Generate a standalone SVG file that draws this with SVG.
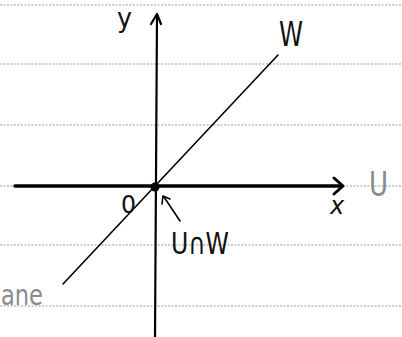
<svg xmlns="http://www.w3.org/2000/svg" width="402" height="337" viewBox="0 0 402 337">
<style>
.rule{stroke:#9a9a9a;stroke-width:1;stroke-dasharray:2 1.5;fill:none}
.ax{stroke:#000;fill:none;stroke-linecap:round;stroke-linejoin:round}
.t{font-family:"DejaVu Sans",sans-serif;fill:#111}
.g{font-family:"DejaVu Sans",sans-serif;fill:#8a8a8a}
</style>
<rect width="402" height="337" fill="#fff"/>
<g id="rules">
<line class="rule" x1="0" y1="5" x2="402" y2="5"/>
<line class="rule" x1="0" y1="64" x2="402" y2="64"/>
<line class="rule" x1="0" y1="125" x2="402" y2="125"/>
<line class="rule" x1="0" y1="186" x2="402" y2="186"/>
<line class="rule" x1="0" y1="245" x2="402" y2="245"/>
<line class="rule" x1="0" y1="306" x2="402" y2="306"/>
</g>
<g id="connectors">
<line class="ax" x1="15" y1="186" x2="342" y2="186" stroke-width="3.5"/>
<path class="ax" d="M334 178 L343 186 L334 194" stroke-width="3"/>
<line class="ax" x1="155" y1="337" x2="157" y2="15" stroke-width="2.2"/>
<path class="ax" d="M151 24 L157 14 L161 24" stroke-width="2.2"/>
<line class="ax" x1="63" y1="284" x2="278" y2="55" stroke-width="1.6"/>
<line class="ax" x1="180" y1="221" x2="164" y2="197" stroke-width="1.6"/>
<path class="ax" d="M162 204 L163 196 L170 199" stroke-width="1.6"/>
<circle cx="155" cy="187" r="4.5" fill="#000"/>
</g>
<g id="labels">
<text class="t" x="117" y="27" font-size="27" textLength="15" lengthAdjust="spacingAndGlyphs">y</text>
<text class="t" x="279" y="46" font-size="34" textLength="24" lengthAdjust="spacingAndGlyphs">W</text>
<text class="t" x="330" y="214" font-size="24" font-style="italic">x</text>
<text class="t" x="121" y="213" font-size="25" textLength="15" lengthAdjust="spacingAndGlyphs">0</text>
<text class="t" x="171" y="254" font-size="30" textLength="58" lengthAdjust="spacingAndGlyphs">U∩W</text>
<text class="g" x="369" y="196" font-size="34" textLength="19" lengthAdjust="spacingAndGlyphs">U</text>
<text class="g" x="1" y="305" font-size="28" textLength="42" lengthAdjust="spacingAndGlyphs">ane</text>
</g>
</svg>
